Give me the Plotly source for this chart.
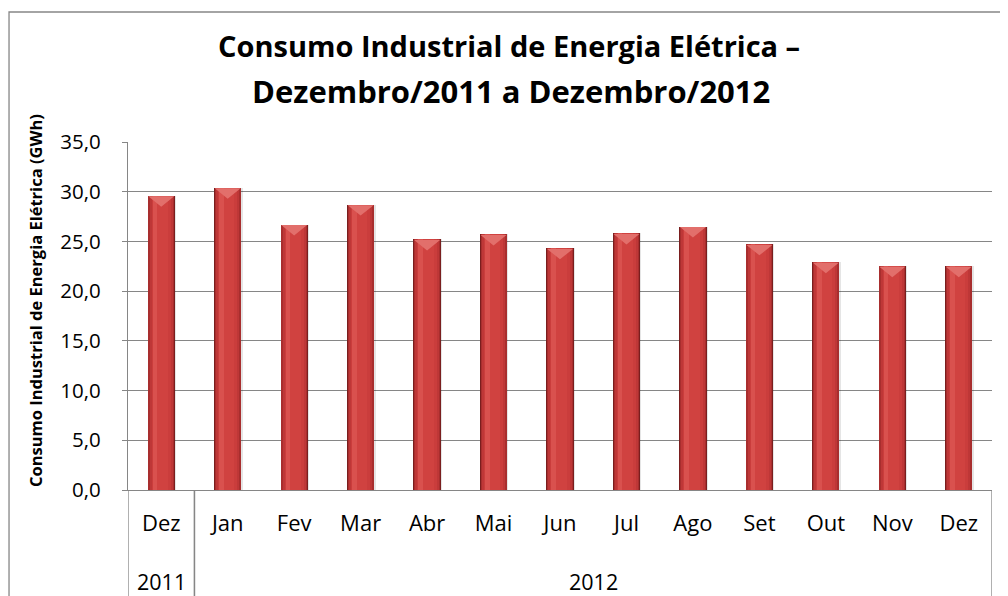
import plotly.graph_objects as go

# ---- data ----
months = ["Dez", "Jan", "Fev", "Mar", "Abr", "Mai", "Jun", "Jul", "Ago", "Set", "Out", "Nov", "Dez"]
years = ["2011", "2012", "2012", "2012", "2012", "2012", "2012", "2012", "2012", "2012", "2012", "2012", "2012"]
consumo = [29.6, 30.4, 26.7, 28.7, 25.2, 25.7, 24.3, 25.8, 26.5, 24.7, 22.9, 22.5, 22.5]
y_ticks = [0, 5, 10, 15, 20, 25, 30, 35]
title_lines = ["Consumo Industrial de Energia Elétrica –", "Dezembro/2011 a Dezembro/2012"]
y_title = "Consumo Industrial de Energia Elétrica (GWh)"

FONT = "Open Sans"
GRID = "#868686"
idx = list(range(len(months)))

fig = go.Figure()

# soft shadow
fig.add_trace(go.Bar(x=idx, y=consumo, width=0.41, offset=-0.185,
                     marker=dict(color="rgba(0,0,0,0.10)", line=dict(width=0)),
                     hoverinfo="skip", showlegend=False))
# cylinder-like shading layers
layers = [(0.41, "#7a1e1e"), (0.39, "#a82e2e"), (0.35, "#be3737"),
          (0.29, "#ca3d3c"), (0.20, "#d04240")]
for w, c in layers:
    fig.add_trace(go.Bar(x=idx, y=consumo, width=w,
                         marker=dict(color=c, line=dict(width=0)),
                         hoverinfo="skip", showlegend=False))
# highlight stripe
fig.add_trace(go.Bar(x=idx, y=consumo, width=0.07, offset=-0.13,
                     marker=dict(color="#d9514e", line=dict(width=0)),
                     hoverinfo="skip", showlegend=False))

# bevel triangles on bar tops
tx, ty = [], []
for i, v in zip(idx, consumo):
    tx += [i - 0.195, i + 0.195, i, i - 0.195, None]
    ty += [v - 0.05, v - 0.05, v - 1.1, v - 0.05, None]
fig.add_trace(go.Scatter(x=tx, y=ty, mode="lines", fill="toself",
                         fillcolor="#e26f6b", line=dict(width=0),
                         hoverinfo="skip", showlegend=False))

# title lines
fig.add_annotation(text=f"<b>{title_lines[0]}</b>", xref="paper", yref="paper",
                   x=0.441, y=1.276, showarrow=False, xanchor="center", yanchor="middle",
                   font=dict(family=FONT, size=29, color="#000"))
fig.add_annotation(text=f"<b>{title_lines[1]}</b>", xref="paper", yref="paper",
                   x=0.443, y=1.147, showarrow=False, xanchor="center", yanchor="middle",
                   font=dict(family=FONT, size=31, color="#000"))
# y title
fig.add_annotation(text=f"<b>{y_title}</b>", xref="paper", yref="paper",
                   x=-0.1076, y=0.543, textangle=-90, showarrow=False,
                   xanchor="center", yanchor="middle",
                   font=dict(family=FONT, size=16.5, color="#000"))

# year group labels and dividers
groups = []
for i, yv in enumerate(years):
    if groups and groups[-1][0] == yv:
        groups[-1][2] = i
    else:
        groups.append([yv, i, i])
for yv, a, b in groups:
    fig.add_annotation(text=yv, x=(a + b) / 2, xref="x", yref="paper", y=-0.262,
                       showarrow=False, xanchor="center", yanchor="middle",
                       font=dict(family=FONT, size=21.5, color="#000"))
    for xb in (a - 0.5, b + 0.5):
        fig.add_shape(type="line", xref="x", yref="paper", x0=xb, x1=xb, y0=0, y1=-0.4,
                      line=dict(color=GRID, width=1.3))

# outer frame
fig.add_shape(type="rect", xref="paper", yref="paper", x0=-0.1377, x1=1.2, y0=-0.5, y1=1.3736,
              line=dict(color=GRID, width=1.3), fillcolor="rgba(0,0,0,0)")

fig.update_layout(
    width=1008, height=596,
    margin=dict(l=120, r=24, t=134, b=114),
    paper_bgcolor="white", plot_bgcolor="white",
    barmode="overlay", bargap=0,
    font=dict(family=FONT, color="#000"),
)
fig.update_xaxes(range=[-0.5, 12.5], tickvals=idx, ticktext=months, showgrid=False,
                 showline=True, linecolor=GRID, linewidth=1.3, ticks="",
                 tickfont=dict(family=FONT, size=22, color="#000"),
                 ticklabelstandoff=13, zeroline=False, fixedrange=True)
fig.update_yaxes(range=[0, 35], tickvals=y_ticks,
                 ticktext=[f"{t:.1f}".replace(".", ",") for t in y_ticks],
                 showgrid=True, gridcolor=GRID, gridwidth=1.3,
                 showline=True, linecolor=GRID, linewidth=1.3,
                 ticks="outside", ticklen=5, tickcolor=GRID, tickwidth=1.3,
                 tickfont=dict(family=FONT, size=20.5, color="#000"),
                 ticklabelstandoff=17, zeroline=False, fixedrange=True)

fig.write_html("out.html")
